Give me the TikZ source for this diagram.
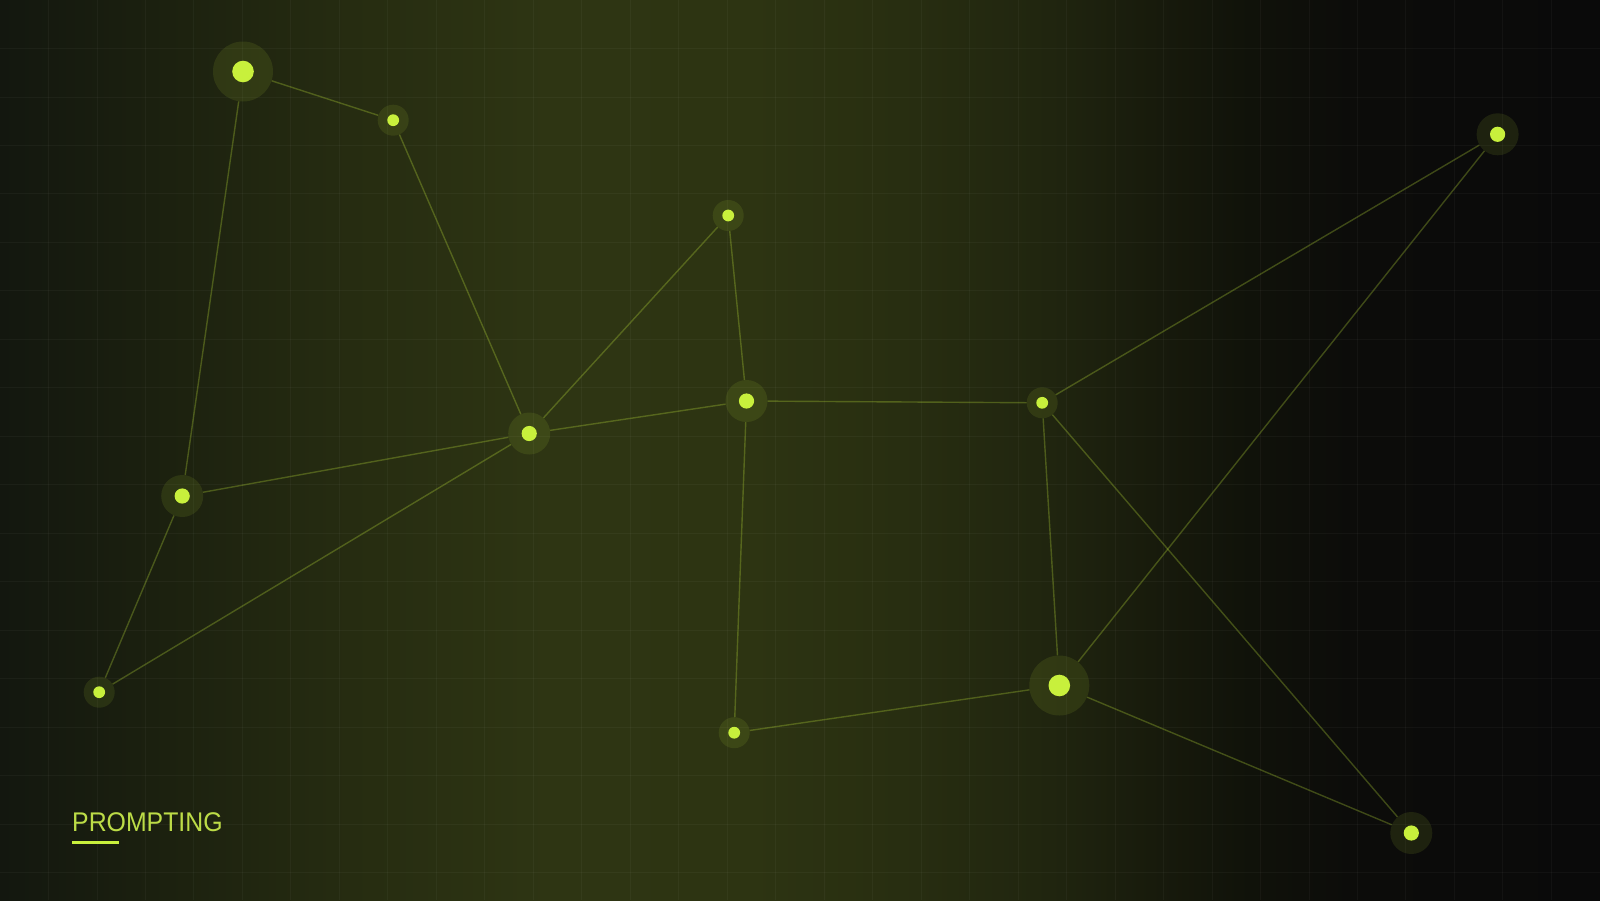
\documentclass[tikz,border=0pt]{standalone}
\usepackage{fontspec}
\setmainfont{Liberation Sans}
\definecolor{c0}{HTML}{13170F}
\definecolor{c1}{HTML}{1B200F}
\definecolor{c2}{HTML}{262C11}
\definecolor{c3}{HTML}{2E3513}
\definecolor{c4}{HTML}{2D3412}
\definecolor{c5}{HTML}{282E11}
\definecolor{c6}{HTML}{20250F}
\definecolor{c7}{HTML}{181B0C}
\definecolor{c8}{HTML}{10120A}
\definecolor{c9}{HTML}{0C0C0A}
\definecolor{c10}{HTML}{0A0A0A}
\definecolor{accent}{HTML}{C8F03C}
\definecolor{labelcol}{HTML}{BCDC47}
\pgfdeclarehorizontalshading{bgshade}{100bp}{color(0bp)=(c0); color(25bp)=(c0); color(29.69bp)=(c1); color(35.94bp)=(c2); color(42.19bp)=(c3); color(48.44bp)=(c4); color(53.125bp)=(c5); color(57.81bp)=(c6); color(60.94bp)=(c7); color(64.06bp)=(c8); color(67.19bp)=(c9); color(75bp)=(c10); color(100bp)=(c10)}
\tikzset{
  halo/.style={circle, inner sep=0pt, fill=accent, fill opacity=0.1},
  bighalo/.style={halo, minimum size=60pt},
  midhalo/.style={halo, minimum size=42pt},
  smallhalo/.style={halo, minimum size=31pt},
  link/.style={draw=accent, draw opacity=0.27, line width=1.4pt},
  gridline/.style={draw=white, draw opacity=0.035, line width=0.9pt},
  dotfill/.style={fill=accent}
}
\begin{document}
\begin{tikzpicture}[x=1pt,y=-1pt]
\useasboundingbox (0,0) rectangle (1600,900);
\shade[shading=bgshade] (0,0) rectangle (1600,900);
\foreach \i in {1,...,32} \draw[gridline] (\i*48.48,0) -- (\i*48.48,900);
\foreach \j in {1,...,18} \draw[gridline] (0,\j*48.48) -- (1600,\j*48.48);
% nodes
\node[bighalo] (A) at (243,71.5) {};
\node[smallhalo] (B) at (393.2,120.2) {};
\node[smallhalo] (C) at (728.2,215.5) {};
\node[midhalo] (D) at (746.5,401) {};
\node[midhalo] (E) at (529.2,433.5) {};
\node[midhalo] (F) at (182.2,496) {};
\node[smallhalo] (G) at (99.2,692.2) {};
\node[smallhalo] (H) at (734.2,732.7) {};
\node[bighalo] (I) at (1059.3,685.5) {};
\node[smallhalo] (J) at (1042.2,402.8) {};
\node[midhalo] (K) at (1497.6,134.3) {};
\node[midhalo] (L) at (1411.3,833) {};
% links
\foreach \a/\b in {A/B,A/F,B/E,E/C,C/D,E/D,E/F,E/G,F/G,D/J,D/H,H/I,I/J,I/K,J/K,J/L,I/L}
  \draw[link] (\a) -- (\b);
% dots
\foreach \n in {A,I} \fill[dotfill] (\n.center) circle[radius=10.8pt];
\foreach \n in {D,E,F,K,L} \fill[dotfill] (\n.center) circle[radius=7.6pt];
\foreach \n in {B,C,G,H,J} \fill[dotfill] (\n.center) circle[radius=5.9pt];
% label
\node[anchor=base west, inner sep=0pt, text=labelcol, font=\fontsize{27}{30}\selectfont] (title) at (72,831) {\scalebox{0.92}[1]{PROMPTING}};
\draw[accent, line width=3pt] (72,842) -- (119,842);
\end{tikzpicture}
\end{document}
